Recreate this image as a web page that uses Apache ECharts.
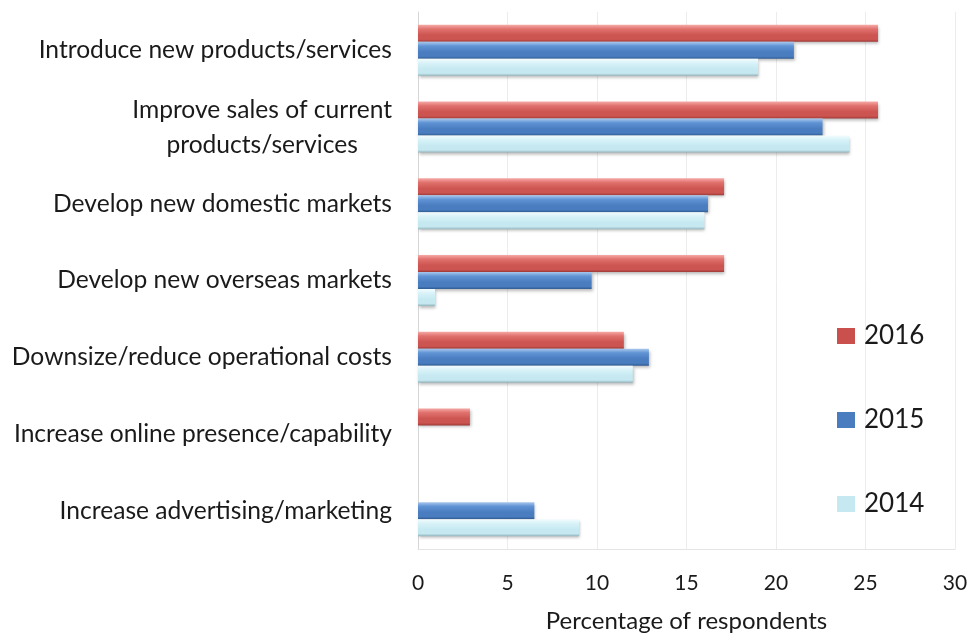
<!DOCTYPE html>
<html>
<head>
<meta charset="utf-8">
<script src="https://cdn.jsdelivr.net/npm/echarts@6/dist/echarts.min.js"></script>
<style>
  html, body { margin: 0; padding: 0; background: #ffffff; }
  #chart { width: 977px; height: 638px; }
</style>
</head>
<body>
<div id="chart"></div>
<script>
// Business goals, share of respondents (%) by survey year
const categories = [
  'Introduce new products/services',
  'Improve sales of current\nproducts/services',
  'Develop new domestic markets',
  'Develop new overseas markets',
  'Downsize/reduce operational costs',
  'Increase online presence/capability',
  'Increase advertising/marketing'
];
const years = ['2016', '2015', '2014'];
const values2016 = [25.7, 25.7, 17.1, 17.1, 11.5, 2.9, 0];
const values2015 = [21.0, 22.6, 16.2, 9.7, 12.9, 0, 6.5];
const values2014 = [19.0, 24.1, 16.0, 0.95, 12.0, 0, 9.0];
const xTicks = [0, 5, 10, 15, 20, 25, 30];

const FONT = 'Lato';
const LABEL_SIZE = 24.6;

// glossy bevelled fills for each year
function bevel(top, mid, body, bottom) {
  return {
    type: 'linear', x: 0, y: 0, x2: 0, y2: 1,
    colorStops: [
      { offset: 0, color: top },
      { offset: 0.25, color: mid },
      { offset: 0.6, color: body },
      { offset: 0.85, color: body },
      { offset: 1, color: bottom }
    ]
  };
}
const fills = [
  bevel('#f6a9a6', '#e0716d', '#cd5551', '#9e3a37'),
  bevel('#a9c8ee', '#5f93d4', '#4a7dc0', '#2e5b92'),
  bevel('#f3fcfe', '#d8f2f8', '#c6e9f1', '#93b4bd')
];
const swatches = ['#c9504c', '#4a7dc0', '#c6e9f1'];

const seriesValues = [values2016, values2015, values2014];

const chart = echarts.init(document.getElementById('chart'), null, { renderer: 'canvas' });

chart.setOption({
  animation: false,
  backgroundColor: '#ffffff',
  grid: { left: 418, right: 22, top: 12, bottom: 89, containLabel: false },
  legend: {
    orient: 'vertical',
    left: 832,
    top: 318,
    itemWidth: 18,
    itemHeight: 16,
    itemGap: 58,
    icon: 'rect',
    data: years.map((y, i) => ({ name: y, itemStyle: { color: swatches[i] } })),
    textStyle: { fontFamily: FONT, fontSize: 26, color: '#1a1a1a', padding: [0, 0, 0, 4] }
  },
  xAxis: {
    type: 'value',
    min: 0,
    max: 30,
    interval: 5,
    name: 'Percentage of respondents',
    nameLocation: 'middle',
    nameGap: 60,
    nameTextStyle: { fontFamily: FONT, fontSize: 24, color: '#1a1a1a' },
    axisLine: { show: true, lineStyle: { color: '#e4e4e4', width: 1 } },
    axisTick: { show: false },
    axisLabel: {
      fontFamily: FONT, fontSize: 21, color: '#1a1a1a', margin: 24,
      formatter: v => (xTicks.indexOf(v) >= 0 ? String(v) : '')
    },
    splitLine: { show: true, lineStyle: { color: '#ececec', width: 1 } }
  },
  yAxis: {
    type: 'category',
    inverse: true,
    data: categories,
    axisLine: { show: true, lineStyle: { color: '#d6d6d6', width: 1 } },
    axisTick: { show: false },
    axisLabel: {
      margin: 26,
      fontFamily: FONT,
      fontSize: LABEL_SIZE,
      color: '#1a1a1a',
      lineHeight: 35,
      formatter: v => v.split('\n').map(s => '{c|' + s + '}').join('\n'),
      rich: { c: { align: 'center', fontFamily: FONT, fontSize: LABEL_SIZE, color: '#1a1a1a', lineHeight: 35 } }
    },
    splitLine: { show: false }
  },
  series: years.map((y, i) => ({
    name: y,
    type: 'bar',
    barWidth: 17,
    barGap: '0%',
    data: seriesValues[i],
    itemStyle: {
      color: fills[i],
      borderWidth: 0,
      shadowColor: 'rgba(0,0,0,0.28)',
      shadowBlur: 3,
      shadowOffsetX: 1,
      shadowOffsetY: 2
    }
  }))
});
</script>
</body>
</html>
